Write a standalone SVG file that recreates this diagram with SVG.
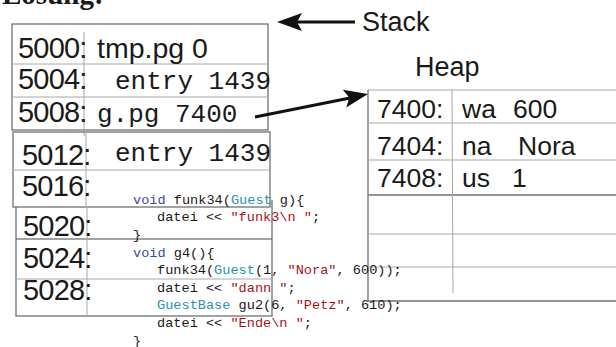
<svg xmlns="http://www.w3.org/2000/svg" width="616" height="347" viewBox="0 0 616 347">
  <style>
    .frame { fill: none; stroke: #707070; stroke-width: 1.3; }
    .row { fill: none; stroke: #a8a8a8; stroke-width: 1; }
    .addr { font-family: "Liberation Sans", Arial, sans-serif; font-size: 29px; letter-spacing: -0.8px; fill: #1a1a1a; }
    .haddr { font-family: "Liberation Sans", Arial, sans-serif; font-size: 26.5px; fill: #1a1a1a; }
    .val { font-family: "Liberation Sans", Arial, sans-serif; font-size: 28.5px; fill: #1a1a1a; }
    .mono { font-family: "Liberation Mono", "DejaVu Sans Mono", monospace; font-size: 26px; fill: #1a1a1a; }
    .title { font-family: "Liberation Sans", Arial, sans-serif; font-size: 27px; fill: #1a1a1a; }
    .code { font-family: "Liberation Mono", "DejaVu Sans Mono", monospace; font-size: 13.6px; fill: #1a1a1a; white-space: pre; }
    .kw { fill: #3c4aa0; }
    .ty { fill: #2b91af; }
    .str { fill: #a31515; }
    .arrow { stroke: #111; stroke-width: 3; fill: none; }
    .head { fill: #111; }
  </style>

  <!-- heading, cut at the top edge -->
  <text x="2" y="4" font-family="Liberation Serif, serif" font-weight="bold" font-size="29" fill="#1a1a1a">Lösung:</text>

  <!-- stack frame: 5000 .. 5008 -->
  <g id="stack-frame-1">
    <rect class="frame" x="12" y="24" width="256" height="106"/>
    <line class="row" x1="12" y1="64" x2="268" y2="64"/>
    <line class="row" x1="12" y1="97" x2="268" y2="97"/>
    <line class="row" x1="84" y1="32" x2="84" y2="136"/>
    <text class="addr" x="18" y="58">5000:</text>
    <text class="addr" x="18" y="89">5004:</text>
    <text class="addr" x="18" y="122">5008:</text>
    <text class="val" x="97" y="58">tmp.pg 0</text>
    <text class="mono" x="115" y="89">entry 1439</text>
    <text class="mono" x="97" y="122">g.pg 7400</text>
  </g>

  <!-- stack frame: 5012 .. 5016 -->
  <g id="stack-frame-2">
    <rect class="frame" x="13" y="132" width="257" height="75"/>
    <line class="row" x1="13" y1="170" x2="270" y2="170"/>
    <line class="row" x1="86" y1="132" x2="86" y2="207"/>
    <text class="addr" x="22" y="165">5012:</text>
    <text class="addr" x="22" y="196">5016:</text>
    <text class="mono" x="115" y="161">entry 1439</text>
  </g>

  <!-- stack frame: 5020 .. 5028 -->
  <g id="stack-frame-3">
    <line class="frame" x1="16" y1="207" x2="16" y2="239"/>
    <line class="frame" x1="272" y1="200" x2="272" y2="239"/>
    <rect class="frame" x="16" y="239" width="256" height="77"/>
    <line class="row" x1="16" y1="279" x2="272" y2="279"/>
    <line class="row" x1="87" y1="207" x2="87" y2="316"/>
    <text class="addr" x="23" y="236">5020:</text>
    <text class="addr" x="23" y="268">5024:</text>
    <text class="addr" x="23" y="300">5028:</text>
  </g>

  <!-- heap block -->
  <g id="heap">
    <line class="row" x1="368" y1="90" x2="616" y2="90" stroke="#808080"/>
    <line class="frame" x1="368" y1="90" x2="368" y2="301" stroke-width="2"/>
    <line class="frame" x1="368" y1="301" x2="616" y2="301"/>
    <line class="row" x1="368" y1="123" x2="616" y2="123"/>
    <line class="row" x1="368" y1="160" x2="616" y2="160"/>
    <line class="frame" x1="368" y1="195" x2="616" y2="195"/>
    <line class="row" x1="368" y1="234" x2="616" y2="234"/>
    <line class="row" x1="368" y1="267" x2="616" y2="267"/>
    <line class="row" x1="452" y1="90" x2="453" y2="293"/>
    <text class="haddr" x="377" y="118">7400:</text>
    <text class="haddr" x="377" y="155">7404:</text>
    <text class="haddr" x="377" y="187">7408:</text>
    <text class="haddr" x="462" y="118">wa</text>
    <text class="haddr" x="513" y="118">600</text>
    <text class="haddr" x="462" y="155">na</text>
    <text class="haddr" x="518" y="155">Nora</text>
    <text class="haddr" x="462" y="187">us</text>
    <text class="haddr" x="512" y="187">1</text>
  </g>

  <!-- region labels -->
  <g id="labels">
    <text class="title" x="362" y="31">Stack</text>
    <text class="title" x="415" y="76">Heap</text>
  </g>

  <!-- arrows -->
  <g id="connectors">
    <line class="arrow" x1="355" y1="22" x2="295" y2="22"/>
    <polygon class="head" points="277,22 302,13 297,22 302,31"/>
    <line class="arrow" x1="255" y1="117" x2="350" y2="98"/>
    <polygon class="head" points="368,94 342.8,89.8 349.4,97.7 346.2,107.4"/>
  </g>

  <!-- source listing -->
  <g id="code" class="code">
    <text x="133" y="203.5"><tspan class="kw">void</tspan> funk34(<tspan class="ty">Guest</tspan> g){</text>
    <text x="157" y="221.2">datei &lt;&lt; <tspan class="str">"funk3\n  "</tspan>;</text>
    <text x="133" y="238.8">}</text>
    <text x="133" y="256.5"><tspan class="kw">void</tspan> g4(){</text>
    <text x="157" y="274.1">funk34(<tspan class="ty">Guest</tspan>(1, <tspan class="str">"Nora"</tspan>, 600));</text>
    <text x="157" y="291.8">datei &lt;&lt; <tspan class="str">"dann "</tspan>;</text>
    <text x="157" y="309.4"><tspan class="ty">GuestBase</tspan> gu2(6, <tspan class="str">"Petz"</tspan>, 610);</text>
    <text x="157" y="327.1">datei &lt;&lt; <tspan class="str">"Ende\n  "</tspan>;</text>
    <text x="133" y="344.7">}</text>
  </g>
</svg>
